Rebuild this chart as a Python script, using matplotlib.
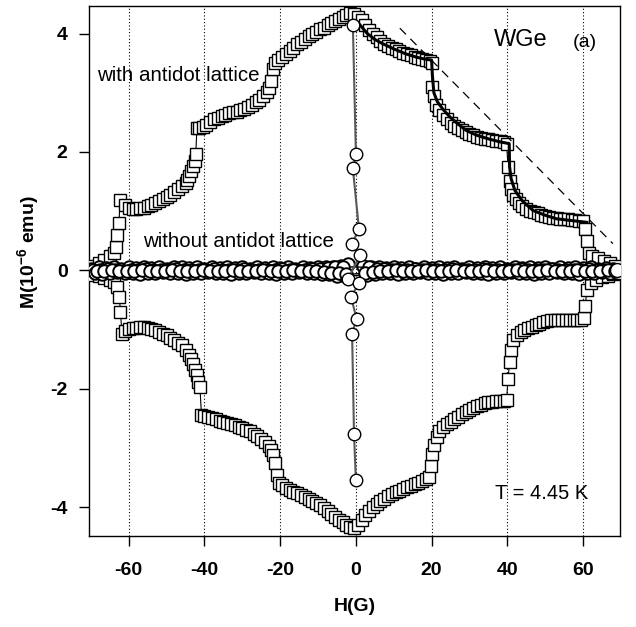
import matplotlib
matplotlib.use('Agg')
import matplotlib.pyplot as plt

plt.rcParams['font.family'] = ['Liberation Sans', 'DejaVu Sans']
plt.rcParams['mathtext.fontset'] = 'custom'
plt.rcParams['mathtext.rm'] = 'Liberation Sans:bold'
plt.rcParams['mathtext.it'] = 'Liberation Sans:bold'
plt.rcParams['mathtext.bf'] = 'Liberation Sans:bold'

# ---------------- data: with antidot lattice (squares) ----------------
sq_up_H = [-69.5, -68, -66.5, -65, -64, -63.3, -63, -62.6, -62.3, -61, -60, -59, -58, -57, -56,
           -55, -54, -53, -52, -51, -50, -49, -48, -47, -46, -45, -44.5, -44, -43.5, -43, -42.6,
           -42.3, -42, -41.5, -40.5, -39.5, -38.5, -37.5, -36.5, -35.5, -34.5, -33.5, -32.5, -31.5,
           -30.5, -29.5, -28.5, -27.5, -26.5, -25.5, -24.5, -23.5, -23, -22.5, -22, -21.5, -20.5,
           -19.5, -18.5, -17.5, -16.5, -15.5, -14.5, -13.5, -12.5, -11.5, -10.5, -9.5, -8.5, -7.5,
           -6.5, -5.5, -4.5, -3.5, -2.5, -1.5, -0.5, 0.5, 1.5, 2.5, 3.5, 4.5, 5.5, 6.5, 7.5, 8.5,
           9.5, 10.5, 11.5, 12.5, 13.5, 14.5, 15.5, 16.5, 17.5, 18.5, 19.5, 20, 20.2, 20.6, 21.2,
           22, 23, 24, 25, 26, 27, 28, 29, 30, 31, 32, 33, 34, 35, 36, 37, 38, 39, 39.8, 40.2,
           40.6, 41, 41.5, 42.2, 43, 44, 45, 46, 47, 48, 49, 50, 51, 52, 53, 54, 55, 56, 57, 58,
           59, 60, 60.5, 61, 61.5, 62.5, 64, 65.5, 67, 68.5]
sq_up_M = [0.08, 0.12, 0.18, 0.24, 0.3, 0.4, 0.6, 0.8, 1.18, 1.1, 1.05, 1.04, 1.03, 1.05, 1.06,
           1.08, 1.1, 1.13, 1.17, 1.2, 1.24, 1.28, 1.32, 1.37, 1.42, 1.48, 1.53, 1.6, 1.68, 1.76,
           1.85, 1.97, 2.4, 2.4, 2.42, 2.45, 2.5, 2.55, 2.58, 2.6, 2.62, 2.65, 2.67, 2.68, 2.7,
           2.73, 2.76, 2.8, 2.84, 2.88, 2.95, 3.02, 3.08, 3.2, 3.4, 3.5, 3.55, 3.6, 3.65, 3.7,
           3.76, 3.82, 3.86, 3.9, 3.95, 3.99, 4.03, 4.07, 4.1, 4.14, 4.18, 4.21, 4.25, 4.28, 4.32,
           4.34, 4.33, 4.28, 4.22, 4.14, 4.06, 4.0, 3.94, 3.88, 3.83, 3.79, 3.76, 3.73, 3.7, 3.67,
           3.65, 3.63, 3.61, 3.59, 3.57, 3.55, 3.53, 3.5, 3.1, 2.95, 2.8, 2.7, 2.62, 2.55, 2.48,
           2.44, 2.4, 2.37, 2.33, 2.3, 2.28, 2.26, 2.24, 2.22, 2.21, 2.2, 2.19, 2.18, 2.16, 2.14,
           1.75, 1.5, 1.38, 1.28, 1.2, 1.13, 1.08, 1.04, 1.01, 0.99, 0.96, 0.94, 0.92, 0.9, 0.89,
           0.88, 0.87, 0.86, 0.86, 0.85, 0.85, 0.84, 0.84, 0.7, 0.5, 0.3, 0.24, 0.2, 0.16, 0.12,
           0.08]

sq_lo_H = [-69.5, -68, -66.5, -65, -64, -63, -62.5, -62.2, -61.8, -61, -60, -59, -58, -57, -56,
           -55, -54, -53, -52, -51, -50, -49, -48, -47, -46, -45, -44, -43.5, -43, -42.5, -42,
           -41.6, -41.2, -40.8, -40, -39, -38, -37, -36, -35, -34, -33, -32, -31, -30, -29, -28,
           -27, -26, -25, -24, -23, -22.3, -21.8, -21.3, -20.8, -20.3, -19.5, -18.5, -17.5, -16.5,
           -15.5, -14.5, -13.5, -12.5, -11.5, -10.5, -9.5, -8.5, -7.5, -6.5, -5.5, -4.5, -3.5,
           -2.5, -1.5, -0.5, 0.5, 1.5, 2.5, 3.5, 4.5, 5.5, 6.5, 7.5, 8.5, 9.5, 10.5, 11.5, 12.5,
           13.5, 14.5, 15.5, 16.5, 17.5, 18.5, 19.3, 19.8, 20.2, 20.7, 21.3, 22, 23, 24, 25, 26,
           27, 28, 29, 30, 31, 32, 33, 34, 35, 36, 37, 38, 39, 39.8, 40.2, 40.6, 41.1, 41.6, 42.5,
           43.5, 44.5, 45.5, 46.5, 47.5, 48.5, 49.5, 50.5, 51.5, 52.5, 53.5, 54.5, 55.5, 56.5,
           57.5, 58.5, 59.5, 60.2, 60.6, 61, 62, 63.5, 65, 66.5, 68, 69.5]
sq_lo_M = [-0.08, -0.1, -0.13, -0.16, -0.2, -0.28, -0.45, -0.7, -1.07, -1.03, -1.0, -0.98, -0.97,
           -0.96, -0.96, -0.97, -0.99, -1.01, -1.04, -1.07, -1.1, -1.14, -1.18, -1.22, -1.27,
           -1.34, -1.43, -1.5, -1.58, -1.68, -1.77, -1.88, -1.97, -2.45, -2.46, -2.48, -2.5,
           -2.52, -2.54, -2.56, -2.58, -2.6, -2.62, -2.64, -2.66, -2.69, -2.72, -2.76, -2.8,
           -2.85, -2.9, -2.97, -3.04, -3.12, -3.25, -3.45, -3.6, -3.63, -3.67, -3.71, -3.74,
           -3.77, -3.8, -3.83, -3.86, -3.89, -3.93, -3.97, -4.02, -4.07, -4.12, -4.17, -4.22,
           -4.26, -4.3, -4.33, -4.35, -4.3, -4.22, -4.14, -4.07, -4.0, -3.95, -3.9, -3.86, -3.82,
           -3.78, -3.75, -3.72, -3.69, -3.66, -3.64, -3.61, -3.59, -3.56, -3.53, -3.5, -3.3, -3.1,
           -2.95, -2.81, -2.72, -2.65, -2.6, -2.56, -2.51, -2.47, -2.43, -2.39, -2.36, -2.33,
           -2.3, -2.27, -2.25, -2.23, -2.22, -2.21, -2.2, -2.2, -2.19, -1.83, -1.55, -1.35,
           -1.18, -1.1, -1.05, -1.01, -0.98, -0.96, -0.93, -0.9, -0.88, -0.86, -0.84, -0.84,
           -0.84, -0.84, -0.84, -0.84, -0.84, -0.84, -0.84, -0.8, -0.6, -0.34, -0.22, -0.16,
           -0.12, -0.09, -0.06, -0.04]

# fit curve (solid) and linear envelope (dashed)
fit_H = [1, 3, 5, 7, 10, 13, 16, 18, 20, 20.2, 20.6, 21.5, 23, 25, 27, 29.2, 32, 35, 38, 40.5,
         40.6, 41, 42, 44, 46.8, 50, 53, 57, 61]
fit_M = [4.15, 4.0, 3.9, 3.83, 3.74, 3.66, 3.6, 3.57, 3.55, 3.3, 3.0, 2.85, 2.72, 2.58, 2.47,
         2.36, 2.28, 2.22, 2.17, 2.14, 1.75, 1.55, 1.35, 1.17, 1.01, 0.93, 0.87, 0.84, 0.81]
dash_H = [11.6, 67.9]
dash_M = [4.09, 0.45]

# ---------------- data: without antidot lattice (circles) ----------------
circA_H = [-70, -68, -66, -64, -62, -60, -58, -56, -54, -52, -50, -48, -46, -44, -42, -40, -38,
           -36, -34, -32, -30, -28, -26, -24, -22, -20, -18, -16, -14, -12, -10, -8, -6, -4, -2,
           2, 4, 6, 8, 10, 12, 14, 16, 18, 20, 22, 24, 26, 28, 30, 32, 34, 36, 38, 40, 42, 44,
           46, 48, 50, 52, 54, 56, 58, 60, 62, 64, 66, 68]
circA_M = [0.03, 0.05, 0.04, 0.06, 0.03, 0.05, 0.04, 0.06, 0.04, 0.05, 0.03, 0.05, 0.06, 0.04,
           0.05, 0.03, 0.05, 0.04, 0.06, 0.04, 0.05, 0.03, 0.05, 0.04, 0.06, 0.04, 0.05, 0.03,
           0.05, 0.04, 0.06, 0.05, 0.06, 0.08, 0.1, 0.08, 0.06, 0.05, 0.04, 0.06, 0.04, 0.05,
           0.03, 0.05, 0.04, 0.06, 0.04, 0.05, 0.03, 0.05, 0.04, 0.06, 0.04, 0.05, 0.03, 0.05,
           0.04, 0.06, 0.04, 0.05, 0.03, 0.05, 0.04, 0.06, 0.04, 0.05, 0.03, 0.04, 0.02]
circB_H = [-69, -67, -65, -63, -61, -59, -57, -55, -53, -51, -49, -47, -45, -43, -41, -39, -37,
           -35, -33, -31, -29, -27, -25, -23, -21, -19, -17, -15, -13, -11, -9, -7, -5, -3, 3,
           5, 7, 9, 11, 13, 15, 17, 19, 21, 23, 25, 27, 29, 31, 33, 35, 37, 39, 41, 43, 45, 47,
           49, 51, 53, 55, 57, 59, 61, 63, 65, 67]
circB_M = [-0.04, -0.06, -0.05, -0.03, -0.05, -0.04, -0.06, -0.04, -0.05, -0.03, -0.05, -0.04,
           -0.06, -0.04, -0.05, -0.03, -0.05, -0.04, -0.06, -0.04, -0.05, -0.03, -0.05, -0.04,
           -0.06, -0.04, -0.05, -0.03, -0.05, -0.04, -0.06, -0.07, -0.09, -0.1, -0.08, -0.06,
           -0.05, -0.04, -0.06, -0.04, -0.05, -0.03, -0.05, -0.04, -0.06, -0.04, -0.05, -0.03,
           -0.05, -0.04, -0.06, -0.04, -0.05, -0.03, -0.05, -0.04, -0.06, -0.04, -0.05, -0.03,
           -0.05, -0.04, -0.06, -0.04, -0.05, -0.03, -0.04]
circC_H = [-69.5, -67.5, -65.5, -63.5, -61.5, -59.5, -57.5, -55.5, -53.5, -51.5, -49.5, -47.5,
           -45.5, -43.5, -41.5, -39.5, -37.5, -35.5, -33.5, -31.5, -29.5, -27.5, -25.5, -23.5,
           -21.5, -19.5, -17.5, -15.5, -13.5, -11.5, -9.5, -7.5, -5.5, -3.5, 3.5, 5.5, 7.5, 9.5,
           11.5, 13.5, 15.5, 17.5, 19.5, 21.5, 23.5, 25.5, 27.5, 29.5, 31.5, 33.5, 35.5, 37.5,
           39.5, 41.5, 43.5, 45.5, 47.5, 49.5, 51.5, 53.5, 55.5, 57.5, 59.5, 61.5, 63.5, 65.5,
           67.5]
circC_M = [0.01, 0.0, 0.02, 0.01, -0.01, 0.01, 0.0, 0.02, 0.01, 0.0, 0.01, 0.02, 0.0, 0.01,
           0.01, 0.0, 0.02, 0.01, 0.0, 0.01, 0.02, 0.0, 0.01, 0.01, 0.0, 0.02, 0.01, 0.0, 0.01,
           0.02, 0.03, 0.04, 0.05, 0.06, 0.05, 0.03, 0.02, 0.01, 0.0, 0.01, 0.02, 0.0, 0.01,
           0.01, 0.0, 0.02, 0.01, 0.0, 0.01, 0.02, 0.0, 0.01, 0.01, 0.0, 0.02, 0.01, 0.0, 0.01,
           0.02, 0.0, 0.01, 0.01, 0.0, 0.02, 0.01, 0.0, 0.01]
circD_H = [-68.5, -66.5, -64.5, -62.5, -60.5, -58.5, -56.5, -54.5, -52.5, -50.5, -48.5, -46.5,
           -44.5, -42.5, -40.5, -38.5, -36.5, -34.5, -32.5, -30.5, -28.5, -26.5, -24.5, -22.5,
           -20.5, -18.5, -16.5, -14.5, -12.5, -10.5, -8.5, -6.5, -4.5, -2.5, 2.5, 4.5, 6.5, 8.5,
           10.5, 12.5, 14.5, 16.5, 18.5, 20.5, 22.5, 24.5, 26.5, 28.5, 30.5, 32.5, 34.5, 36.5,
           38.5, 40.5, 42.5, 44.5, 46.5, 48.5, 50.5, 52.5, 54.5, 56.5, 58.5, 60.5, 62.5, 64.5,
           66.5, 68.5]
circD_M = [-0.01, -0.02, 0.0, -0.01, -0.02, -0.01, 0.0, -0.02, -0.01, -0.01, 0.0, -0.02,
           -0.01, -0.01, 0.0, -0.02, -0.01, -0.01, 0.0, -0.02, -0.01, -0.01, 0.0, -0.02, -0.01,
           -0.01, 0.0, -0.02, -0.01, -0.02, -0.03, -0.04, -0.05, -0.07, -0.05, -0.03, -0.02,
           -0.01, 0.0, -0.02, -0.01, -0.01, 0.0, -0.02, -0.01, -0.01, 0.0, -0.02, -0.01, -0.01,
           0.0, -0.02, -0.01, -0.01, 0.0, -0.02, -0.01, -0.01, 0.0, -0.02, -0.01, -0.01, 0.0,
           -0.02, -0.01, -0.01, 0.0, -0.01]
circE_H = [69.0]
circE_M = [0.0]
circS_H = [-0.8, 0.0, -0.8, 0.8, -1.0, 1.0, -2.0, 0.8, -1.3, 0.2, -1.0, -0.5, 0.0]
circS_M = [4.14, 1.97, 1.72, 0.7, 0.45, 0.25, -0.14, -0.22, -0.45, -0.82, -1.07, -2.76, -3.55]

x_ticks = [-60, -40, -20, 0, 20, 40, 60]
y_ticks = [-4, -2, 0, 2, 4]

# ---------------- figure ----------------
fig = plt.figure(figsize=(6.36, 6.27), dpi=100)
ax = fig.add_axes([0.140, 0.145, 0.835, 0.845])

sq_style = dict(color='black', lw=0.8, marker='s', ms=8.5, mfc='white', mec='black', mew=1.0)
ax.plot(sq_up_H, sq_up_M, zorder=3, **sq_style)
ax.plot(sq_lo_H, sq_lo_M, zorder=3, **sq_style)
ax.plot(fit_H, fit_M, color='black', lw=2.2, zorder=4)
ax.plot(dash_H, dash_M, color='black', lw=0.9, dashes=(7, 5), zorder=4)

ci_style = dict(color='black', lw=1.0, marker='o', ms=9, mfc='white', mec='black', mew=1.4)
for h, m in [(circA_H, circA_M), (circC_H, circC_M), (circB_H, circB_M), (circD_H, circD_M)]:
    ax.plot(h, m, zorder=5, **ci_style)
ax.plot(circE_H, circE_M, ls='none', marker='o', ms=10, mfc='white', mec='black', mew=1.0,
        zorder=6)
ax.plot(circS_H, circS_M, color='0.35', lw=1.5, marker='o', ms=9, mfc='white', mec='black',
        mew=1.0, zorder=6)

ax.set_xlim(-70.5, 69.8)
ax.set_ylim(-4.49, 4.46)
ax.set_xticks(x_ticks)
ax.set_yticks(y_ticks)
ax.set_xticklabels([str(v) for v in x_ticks])
ax.set_yticklabels([str(v) for v in y_ticks])
ax.tick_params(direction='out', length=7.5, width=1, labelsize=14)
ax.tick_params(axis='x', pad=11)
ax.tick_params(axis='y', pad=8)
for lab in ax.get_xticklabels() + ax.get_yticklabels():
    lab.set_fontweight('bold')
ax.grid(axis='x', linestyle=(0, (1, 2)), color='black', lw=0.8)
for s in ax.spines.values():
    s.set_linewidth(1.0)

ax.set_xlabel('H(G)', fontsize=14, fontweight='bold', labelpad=14)
ax.set_ylabel(r'M(10$^{-6}$ emu)', fontsize=14, fontweight='bold')
ax.yaxis.set_label_coords(-0.09, 0.535)

ax.text(-68.4, 3.29, 'with antidot lattice', fontsize=14.8, va='center', ha='left', zorder=7)
ax.text(-56.3, 0.49, 'without antidot lattice', fontsize=14.8, va='center', ha='left', zorder=7)
ax.text(36.5, 3.89, 'WGe', fontsize=17, va='center', ha='left', zorder=7)
ax.text(57.3, 3.85, '(a)', fontsize=14, va='center', ha='left', zorder=7)
ax.text(36.7, -3.77, 'T = 4.45 K', fontsize=14.5, va='center', ha='left', zorder=7)

fig.savefig('out.png', dpi=100)
